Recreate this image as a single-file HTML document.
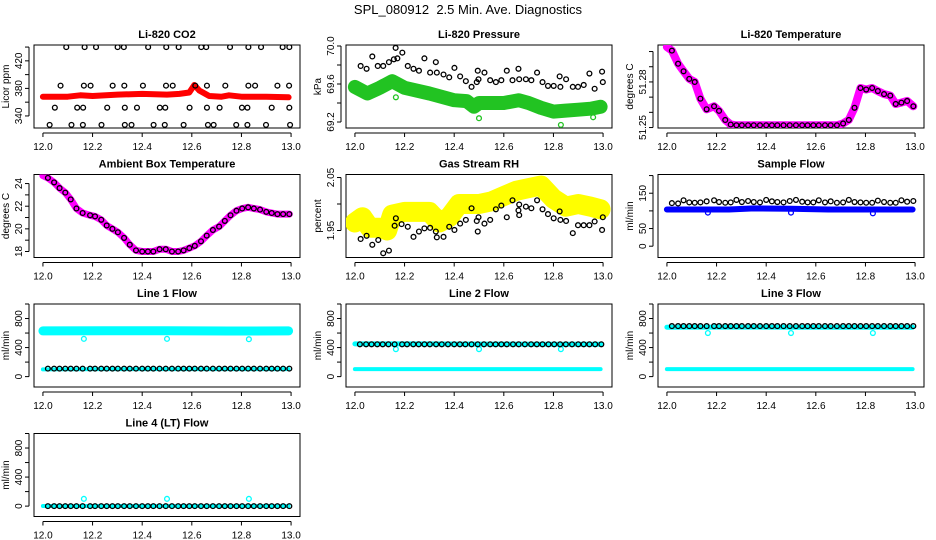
<!DOCTYPE html>
<html><head><meta charset="utf-8"><style>
html,body{margin:0;padding:0;background:#fff}
svg{display:block;font-family:"Liberation Sans",Arial,sans-serif}
</style></head><body>
<svg id="chart" width="936" height="540" viewBox="0 0 936 540" xmlns="http://www.w3.org/2000/svg">
<text x="468" y="14" text-anchor="middle" font-size="13" fill="#000">SPL_080912&#160; 2.5 Min. Ave. Diagnostics</text>
</svg>
<script>
// ---- data ----
const T = [12.02,12.045,12.067,12.09,12.112,12.135,12.16,12.19,12.21,12.235,12.257,12.28,12.302,12.327,12.35,12.375,12.4,12.423,12.445,12.47,12.495,12.52,12.545,12.567,12.59,12.612,12.637,12.66,12.685,12.71,12.733,12.756,12.78,12.803,12.827,12.85,12.875,12.9,12.922,12.945,12.968,12.993];

const co2BlackT = [12.094,12.168,12.214,12.301,12.326,12.424,12.497,12.547,12.638,12.658,12.754,12.828,12.879,12.966,12.993,12.071,12.165,12.192,12.281,12.328,12.403,12.496,12.523,12.614,12.661,12.735,12.828,12.855,12.945,12.992,12.048,12.138,12.162,12.259,12.330,12.379,12.471,12.493,12.591,12.661,12.712,12.802,12.824,12.922,12.993,12.027,12.115,12.161,12.236,12.330,12.357,12.446,12.491,12.567,12.665,12.688,12.779,12.824,12.899,12.996];
const co2BlackV = [440,440,440,440,440,440,440,440,440,440,440,440,440,440,440,384,384,384,384,384,384,384,384,384,384,384,384,384,384,384,352,352,352,352,352,352,352,352,352,352,352,352,352,352,352,327,327,327,327,327,327,327,327,327,327,327,327,327,327,327];
const co2RedT = [12.0,12.1,12.15,12.2,12.3,12.4,12.5,12.55,12.59,12.61,12.63,12.67,12.72,12.75,12.8,12.9,12.99];
const co2RedV = [368,368,370,369,371,372,371,372,374,385,377,369,368,370,368,368,367];

const presBlackT = [12.023,12.047,12.070,12.092,12.114,12.137,12.157,12.164,12.171,12.191,12.213,12.236,12.258,12.280,12.303,12.326,12.330,12.357,12.380,12.401,12.424,12.447,12.470,12.491,12.495,12.498,12.522,12.545,12.568,12.590,12.612,12.635,12.659,12.662,12.689,12.711,12.734,12.756,12.778,12.801,12.825,12.828,12.851,12.878,12.899,12.922,12.945,12.966,12.996,12.999];
const presBlackV = [69.79,69.76,69.89,69.79,69.79,69.83,69.86,69.98,69.87,69.93,69.79,69.76,69.74,69.87,69.72,69.83,69.72,69.70,69.67,69.77,69.68,69.63,69.57,69.62,69.74,69.65,69.72,69.64,69.62,69.64,69.74,69.64,69.76,69.65,69.65,69.64,69.72,69.62,69.58,69.58,69.68,69.57,69.65,69.57,69.57,69.59,69.71,69.55,69.73,69.62];
const presGreenT = [12.0,12.05,12.1,12.15,12.2,12.3,12.4,12.45,12.48,12.5,12.6,12.66,12.7,12.75,12.8,12.85,12.9,12.95,12.99];
const presGreenV = [69.57,69.50,69.56,69.63,69.56,69.50,69.43,69.42,69.36,69.40,69.40,69.43,69.40,69.35,69.31,69.32,69.33,69.34,69.36];
const presOutT = [12.165,12.5,12.83,12.96];
const presOutV = [69.46,69.24,69.17,69.25];

const litempV = [51.3006,51.292,51.287,51.282,51.280,51.269,51.262,51.264,51.261,51.255,51.252,51.2515,51.2515,51.2515,51.2515,51.2515,51.2515,51.2515,51.2515,51.2515,51.2515,51.2515,51.2515,51.2515,51.2515,51.2515,51.2515,51.2515,51.2515,51.2527,51.255,51.263,51.276,51.275,51.276,51.274,51.272,51.271,51.2655,51.2664,51.2675,51.264];

const ambV = [24.5,24.1,23.6,23.2,22.6,21.8,21.4,21.2,21.1,20.8,20.3,20.0,19.7,19.2,18.6,18.1,18.0,18.0,18.0,18.2,18.2,18.0,18.0,18.1,18.3,18.5,18.9,19.4,19.9,20.2,20.7,21.2,21.6,21.8,21.9,21.8,21.7,21.5,21.4,21.3,21.3,21.3];

const rhBlackT = [12.023,12.047,12.07,12.094,12.114,12.137,12.16,12.165,12.188,12.213,12.236,12.258,12.28,12.303,12.326,12.33,12.357,12.38,12.401,12.424,12.447,12.47,12.491,12.495,12.498,12.522,12.545,12.568,12.59,12.612,12.635,12.659,12.662,12.662,12.689,12.711,12.734,12.756,12.778,12.801,12.825,12.828,12.851,12.878,12.899,12.922,12.945,12.966,12.996,12.999];
const rhBlackV = [1.934,1.940,1.923,1.932,1.907,1.912,1.959,1.973,1.962,1.957,1.938,1.948,1.954,1.955,1.948,1.937,1.938,1.957,1.951,1.963,1.970,1.992,1.968,1.948,1.975,1.963,1.970,1.990,1.997,1.975,2.007,1.988,1.979,1.999,1.995,1.992,2.007,1.990,1.981,1.973,1.986,1.970,1.968,1.945,1.960,1.960,1.960,1.967,1.951,1.975];
const rhYellowT = [12.0,12.03,12.06,12.1,12.13,12.15,12.2,12.3,12.34,12.38,12.42,12.5,12.55,12.6,12.65,12.7,12.75,12.8,12.85,12.9,12.95,12.99];
const rhYellowV = [1.965,1.975,1.955,1.955,1.950,1.980,1.985,1.985,1.965,1.975,2.000,2.000,2.005,2.015,2.025,2.030,2.035,2.010,1.995,2.000,1.995,1.990];

const sfBlackV = [122,121,130,124,123,124,127,130,125,123,124,131,125,128,125,124,131,127,125,124,128,131,126,124,124,130,124,127,123,124,131,125,124,123,123,129,125,123,123,130,126,128];
const sfBlueT = [12.0,12.25,12.35,12.5,12.65,12.99];
const sfBlueV = [104,104,107,106,104,104];
const outT = [12.165,12.5,12.83];
const sfOutV = [95,95,93];

const l1BlackV = [110,110,110,110,110,110,110,110,110,110,110,110,110,110,110,110,110,110,110,110,110,110,110,110,110,110,110,110,110,110,110,110,110,110,110,110,110,110,110,110,110,110];
const l1CyanT = [12.0,12.25,12.5,12.75,12.99];
const l1CyanV = [630,632,631,628,630];
const l1LowV = [100,104,104,104,104];
const l1OutV = [520,520,515];

const l2BlackV = [445,445,445,445,445,445,445,445,445,445,445,445,445,445,445,445,445,445,445,445,445,445,445,445,445,445,445,445,445,445,445,445,445,445,445,445,445,445,445,445,445,445];
const l2CyanV = [450,450,448,446,446];
const l2LowV = [104,104,104,104,104];
const l2OutV = [378,378,378];

const l3BlackV = [696,696,696,696,696,696,696,696,696,696,696,696,696,696,696,696,696,696,696,696,696,696,696,696,696,696,696,696,696,696,696,696,696,696,696,696,696,696,696,696,696,696];
const l3CyanV = [680,682,680,680,680];
const l3LowV = [104,104,104,104,104];
const l3OutV = [600,600,600];

const l4BlackV = [0,0,0,0,0,0,0,0,0,0,0,0,0,0,0,0,0,0,0,0,0,0,0,0,0,0,0,0,0,0,0,0,0,0,0,0,0,0,0,0,0,0];
const l4CyanV = [2,2,2,2,2];
const l4OutV = [100,100,100];

const xTicks = [12.0,12.2,12.4,12.6,12.8,13.0];
const xTickLabels = ["12.0","12.2","12.4","12.6","12.8","13.0"];

// ---- drawing ----
const svg = document.getElementById('chart');
const NS = 'http://www.w3.org/2000/svg';
function mk(tag, attrs, parent){
  const e = document.createElementNS(NS, tag);
  for (const k in attrs) e.setAttribute(k, attrs[k]);
  (parent||svg).appendChild(e);
  return e;
}
function panel(c, r, name, title, ylab, y0, y1, ticks, labels){
  const L = 34 + 312*c, W = 266, Tp = 45 + 129.5*r, H = 83;
  const g = mk('g', {});
  
  
  const xs = v => L + (v - 11.964) / 1.072 * W;
  const ys = v => Tp + H - (v - y0) / (y1 - y0) * H;
  const t = mk('text', {x: L + W/2, y: Tp - 7, 'text-anchor':'middle', 'font-size':'11', 'font-weight':'bold'}, g);
  t.textContent = title;
  
  
  const box = mk('rect', {x:L, y:Tp, width:W, height:H, fill:'none', stroke:'#000', 'stroke-width':1}, g);
  
  
  const xa = mk('g', {}, g);
  
  
  mk('line', {x1:xs(12), x2:xs(13), y1:Tp+H+5, y2:Tp+H+5, stroke:'#000'}, xa);
  xTicks.forEach((v,i) => {
    mk('line', {x1:xs(v), x2:xs(v), y1:Tp+H+5, y2:Tp+H+9, stroke:'#000'}, xa);
    const tl = mk('text', {x:xs(v), y:Tp+H+22, 'text-anchor':'middle', 'font-size':'10'}, xa);
    tl.textContent = xTickLabels[i];
  });
  const ya = mk('g', {}, g);
  
  
  mk('line', {x1:L-5, x2:L-5, y1:ys(ticks[0]), y2:ys(ticks[ticks.length-1]), stroke:'#000'}, ya);
  ticks.forEach(v => {
    mk('line', {x1:L-9, x2:L-5, y1:ys(v), y2:ys(v), stroke:'#000'}, ya);
  });
  labels.forEach(s => {
    const v = parseFloat(s);
    const yl = mk('text', {x:0, y:0, 'text-anchor':'middle', 'font-size':'10', transform:`translate(${L-12},${ys(v)}) rotate(-90)`}, ya);
    yl.textContent = s;
  });
  const yt = mk('text', {x:0, y:0, 'text-anchor':'middle', 'font-size':'10', transform:`translate(${L-25},${Tp+H/2}) rotate(-90)`}, g);
  yt.textContent = ylab;
  
  
  const clip = 'clip' + c + r;
  const cp = mk('clipPath', {id:clip}, g);
  mk('rect', {x:L, y:Tp, width:W, height:H}, cp);
  const plot = mk('g', {'clip-path':`url(#${clip})`}, g);
  return {xs, ys, plot};
}
function band(p, ts, vs, color, w, name){
  const pts = ts.map((t,i) => p.xs(t).toFixed(1) + ',' + p.ys(vs[i]).toFixed(1)).join(' ');
  const pl = mk('polyline', {points:pts, fill:'none', stroke:color, 'stroke-width':w, 'stroke-linejoin':'round', 'stroke-linecap':'round'}, p.plot);
  
  
}
function pts(p, ts, vs, color, name, r){
  const g = mk('g', {}, p.plot);
  
  
  ts.forEach((t,i) => {
    const ci = mk('circle', {cx:p.xs(t), cy:p.ys(vs[i]), r:r||2.4, fill:'none', stroke:color, 'stroke-width':1.3}, g);
    
    
  });
}

// CO2
let p = panel(0,0,'co2','Li-820 CO2','Licor ppm',322.5,443,[340,360,380,400,420,440],['340','380','420']);
band(p, co2RedT, co2RedV, '#ff0000', 6, 'co2-red-series');
pts(p, co2BlackT, co2BlackV, '#000', 'co2-black-series');
// Pressure
p = panel(1,0,'pressure','Li-820 Pressure','kPa',69.137,70.0105,[69.2,69.4,69.6,69.8,70.0],['69.2','69.6','70.0']);
band(p, presGreenT, presGreenV, '#22c322', 14, 'pressure-green-series');
pts(p, presOutT, presOutV, '#22c322', 'pressure-green-outliers');
pts(p, presBlackT, presBlackV, '#000', 'pressure-black-series');
// Li temp
p = panel(2,0,'li-temperature','Li-820 Temperature','degrees C',51.2497,51.3043,[51.25,51.26,51.27,51.28,51.29,51.30],['51.25','51.28']);
band(p, [12.0].concat(T), [51.303].concat(litempV), '#ff00ff', 8, 'li-temperature-magenta-series');
pts(p, T, litempV, '#000', 'li-temperature-black-series');
// Ambient
p = panel(0,1,'ambient-temperature','Ambient Box Temperature','degrees C',17.47,24.8,[18,19,20,21,22,23,24],['18','20','22','24']);
band(p, [12.0].concat(T), [24.7].concat(ambV), '#ff00ff', 7, 'ambient-magenta-series');
pts(p, T, ambV, '#000', 'ambient-black-series');
// RH
p = panel(1,1,'gas-rh','Gas Stream RH','percent',1.899,2.0557,[1.95,2.00,2.05],['1.95','2.05']);
band(p, rhYellowT, rhYellowV, '#ffff00', 20, 'rh-yellow-series');
pts(p, rhBlackT, rhBlackV, '#000', 'rh-black-series');
// Sample flow
p = panel(2,1,'sample-flow','Sample Flow','ml/min',-32,203,[0,50,100,150,200],['0','50','150']);
band(p, sfBlueT, sfBlueV, '#0000ff', 6, 'sample-flow-blue-series');
pts(p, outT, sfOutV, '#0000ff', 'sample-flow-blue-outliers');
pts(p, T, sfBlackV, '#000', 'sample-flow-black-series');
// Line flows
const fT = [0,200,400,600,800,1000], fL = ['0','400','800'];
p = panel(0,2,'line1-flow','Line 1 Flow','ml/min',-143,1000,fT,fL);
band(p, l1CyanT, l1CyanV, '#00ffff', 9, 'line1-cyan-series');
band(p, l1CyanT, l1LowV, '#00ffff', 4, 'line1-cyan-low-series');
pts(p, outT, l1OutV, '#00ffff', 'line1-cyan-outliers');
pts(p, T, l1BlackV, '#000', 'line1-black-series');
p = panel(1,2,'line2-flow','Line 2 Flow','ml/min',-143,1000,fT,fL);
band(p, l1CyanT, l2CyanV, '#00ffff', 5, 'line2-cyan-series');
band(p, l1CyanT, l2LowV, '#00ffff', 4, 'line2-cyan-low-series');
pts(p, outT, l2OutV, '#00ffff', 'line2-cyan-outliers');
pts(p, T, l2BlackV, '#000', 'line2-black-series');
p = panel(2,2,'line3-flow','Line 3 Flow','ml/min',-143,1000,fT,fL);
band(p, l1CyanT, l3CyanV, '#00ffff', 5, 'line3-cyan-series');
band(p, l1CyanT, l3LowV, '#00ffff', 4, 'line3-cyan-low-series');
pts(p, outT, l3OutV, '#00ffff', 'line3-cyan-outliers');
pts(p, T, l3BlackV, '#000', 'line3-black-series');
p = panel(0,3,'line4-flow','Line 4 (LT) Flow','ml/min',-143,1000,fT,fL);
band(p, l1CyanT, l4CyanV, '#00ffff', 4, 'line4-cyan-series');
pts(p, outT, l4OutV, '#00ffff', 'line4-cyan-outliers');
pts(p, T, l4BlackV, '#000', 'line4-black-series');
</script>
</body></html>
